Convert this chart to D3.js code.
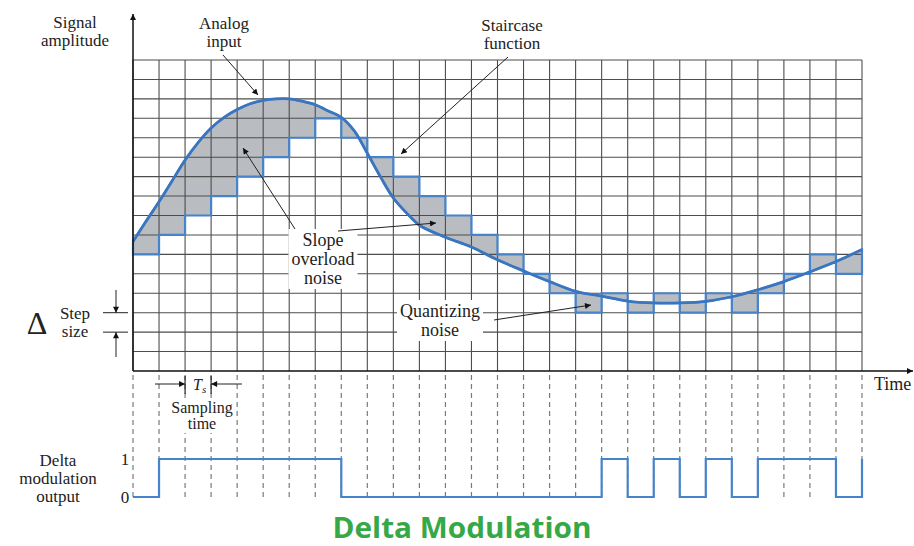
<!DOCTYPE html>
<html>
<head>
<meta charset="utf-8">
<script src="https://cdn.jsdelivr.net/npm/d3@7"></script>
<style>
  body { margin: 0; background: #fff; }
  text { font-family: "Liberation Serif", "DejaVu Serif", serif; fill: #222; }
</style>
</head>
<body>
<svg id="chart"></svg>
<script>
let width = 914
let height = 546
let nCols = 28      // sampling periods shown
let nLevels = 16    // step sizes on the amplitude axis

// analog input (time in sampling periods, amplitude in steps)
let analogT = [0, 0.5, 1, 1.5, 2, 2.5, 3, 3.5, 4, 4.5, 5, 5.5, 6, 6.5, 7, 7.5, 8, 8.5, 9, 9.5, 10, 10.6, 11, 12, 13, 14, 15, 16, 17, 18, 19, 20, 21, 22, 23, 24, 25, 26, 27, 28]
let analogV = [6.66, 7.7, 8.71, 9.78, 10.85, 11.75, 12.5, 13.05, 13.45, 13.75, 13.92, 14.0, 14.0, 13.88, 13.7, 13.38, 13.05, 12.35, 11.2, 10.0, 8.9, 8.0, 7.5, 6.88, 6.38, 5.72, 5.15, 4.6, 4.1, 3.85, 3.6, 3.5, 3.5, 3.58, 3.82, 4.18, 4.6, 5.1, 5.63, 6.25]

// staircase level held during each sampling period
let staircase = [6, 7, 8, 9, 10, 11, 12, 13, 12, 11, 10, 9, 8, 7, 6, 5, 4, 3, 4, 3, 4, 3, 4, 3, 4, 5, 6, 5]

// delta modulation output bit at each sampling instant
let dmBits = [0, 1, 1, 1, 1, 1, 1, 1, 0, 0, 0, 0, 0, 0, 0, 0, 0, 0, 1, 0, 1, 0, 1, 0, 1, 1, 1, 0, 1]
let bitLabels = ["0", "1"]

let blue = "#4583cb"
let gridColor = "#4d4d4d"

let x = d3.scaleLinear().domain([0, nCols]).range([133, 862])
let y = d3.scaleLinear().domain([0, nLevels]).range([371, 60])
let yOut = d3.scaleLinear().domain([0, 1]).range([497, 459])

let svg = d3.select("#chart").attr("width", width).attr("height", height)
svg.append("rect").attr("width", width).attr("height", height).attr("fill", "white")

let defs = svg.append("defs")
defs.append("marker")
    .attr("id", "arrow")
    .attr("viewBox", "0 0 10 10")
    .attr("refX", 10)
    .attr("refY", 5)
    .attr("markerWidth", 9)
    .attr("markerHeight", 6)
    .attr("markerUnits", "userSpaceOnUse")
    .attr("orient", "auto")
    .append("path")
    .attr("d", "M0,0 L10,5 L0,10 Z")
    .attr("fill", "#111")

let analog = analogT.map((t, i) => [t, analogV[i]])
let stairPts = staircase.map((v, i) => [i, v]).concat([[nCols, staircase[staircase.length - 1]]])

let curveLine = d3.line().x(d => x(d[0])).y(d => y(d[1])).curve(d3.curveCatmullRom.alpha(0.5))
let stairBack = d3.line().x(d => x(d[0])).y(d => y(d[1])).curve(d3.curveStepBefore)

// noise area: between the analog input and the staircase
let noisePath = curveLine(analog) + stairBack(stairPts.slice().reverse()).replace(/^M/, "L") + "Z"

svg.append("path")
    .attr("d", noisePath)
    .attr("fill", "#b9bcc1")
    .attr("stroke", "none")

// grid
let grid = svg.append("g").attr("id", "grid")
grid.selectAll(".vline")
    .data(d3.range(nCols + 1))
    .join("line")
    .attr("class", "vline")
    .attr("x1", d => x(d)).attr("x2", d => x(d))
    .attr("y1", y(nLevels)).attr("y2", y(0))
    .attr("stroke", gridColor).attr("stroke-width", 1.1)
grid.selectAll(".hline")
    .data(d3.range(1, nLevels + 1))
    .join("line")
    .attr("class", "hline")
    .attr("x1", x(0)).attr("x2", x(nCols))
    .attr("y1", d => y(d)).attr("y2", d => y(d))
    .attr("stroke", gridColor).attr("stroke-width", 1.1)

// dashed sampling instants below the time axis
svg.append("g").selectAll("line")
    .data(d3.range(nCols + 1))
    .join("line")
    .attr("x1", d => x(d)).attr("x2", d => x(d))
    .attr("y1", y(0) + 4).attr("y2", yOut(0))
    .attr("stroke", "#7a7a7a").attr("stroke-width", 1.2)
    .attr("stroke-dasharray", "5,4")

// multi-line label as one text element, optional white box behind it
function addLabel(lines, cx, y0, dy, bg, size) {
    let g = svg.append("g")
    let t = g.append("text")
        .attr("x", cx).attr("y", y0)
        .attr("text-anchor", "middle")
        .attr("font-size", size || 17)
    lines.forEach((s, i) => {
        t.append("tspan").attr("x", cx).attr("dy", i === 0 ? 0 : dy).text(s)
    })
    if (bg) {
        let b = t.node().getBBox()
        g.insert("rect", "text")
            .attr("x", b.x - 3).attr("y", b.y - 1)
            .attr("width", b.width + 6).attr("height", b.height + 2)
            .attr("fill", "white")
    }
    return g
}

addLabel(["Slope", "overload", "noise"], 323, 246, 19, true, 18)
addLabel(["Quantizing", "noise"], 440, 317, 19, true, 18)
addLabel(["Sampling", "time"], 202, 413, 16, true, 16)

// staircase + closing edges, then the analog input on top
svg.append("path")
    .attr("d", noisePath)
    .attr("fill", "none")
    .attr("stroke", blue)
    .attr("stroke-width", 2.2)
svg.append("path")
    .datum(analog)
    .attr("d", curveLine)
    .attr("fill", "none")
    .attr("stroke", "#3a76bf")
    .attr("stroke-width", 2.8)

// axes
svg.append("line")
    .attr("x1", x(0)).attr("y1", y(0)).attr("x2", x(0)).attr("y2", 14)
    .attr("stroke", "#111").attr("stroke-width", 1.5)
    .attr("marker-end", "url(#arrow)")
svg.append("line")
    .attr("x1", x(0)).attr("y1", y(0)).attr("x2", 913).attr("y2", y(0))
    .attr("stroke", "#111").attr("stroke-width", 1.5)
    .attr("marker-end", "url(#arrow)")

addLabel(["Signal", "amplitude"], 75, 28, 18)
addLabel(["Analog", "input"], 224, 29, 18)
addLabel(["Staircase", "function"], 512, 31, 18)
svg.append("text").attr("x", 874).attr("y", 390).attr("font-size", 18).text("Time")

// annotation arrows
let pointers = [
    [223, 55, 258, 95],
    [508, 57, 401, 154],
    [295, 229, 243, 148],
    [338, 231, 436, 223],
    [494, 320, 591, 305]
]
svg.append("g").selectAll("line")
    .data(pointers)
    .join("line")
    .attr("x1", d => d[0]).attr("y1", d => d[1])
    .attr("x2", d => d[2]).attr("y2", d => d[3])
    .attr("stroke", "#222").attr("stroke-width", 1)
    .attr("marker-end", "url(#arrow)")

// step size marker
svg.append("text").attr("x", 37).attr("y", 334).attr("text-anchor", "middle")
    .attr("font-size", 32).text("Δ")
addLabel(["Step", "size"], 75, 319, 18)
svg.append("g").selectAll("line")
    .data([3, 2])
    .join("line")
    .attr("x1", 103).attr("x2", 128)
    .attr("y1", d => y(d)).attr("y2", d => y(d))
    .attr("stroke", "#222").attr("stroke-width", 1)
svg.append("line").attr("x1", 116).attr("x2", 116).attr("y1", 290).attr("y2", y(3))
    .attr("stroke", "#222").attr("marker-end", "url(#arrow)")
svg.append("line").attr("x1", 116).attr("x2", 116).attr("y1", 357).attr("y2", y(2))
    .attr("stroke", "#222").attr("marker-end", "url(#arrow)")

// Ts bracket
svg.append("line").attr("x1", 155).attr("x2", x(2)).attr("y1", 384).attr("y2", 384)
    .attr("stroke", "#222").attr("marker-end", "url(#arrow)")
svg.append("line").attr("x1", 242).attr("x2", x(3)).attr("y1", 384).attr("y2", 384)
    .attr("stroke", "#222").attr("marker-end", "url(#arrow)")
svg.append("g").selectAll("line")
    .data([2, 3])
    .join("line")
    .attr("x1", d => x(d)).attr("x2", d => x(d))
    .attr("y1", 376).attr("y2", 394)
    .attr("stroke", "#222").attr("stroke-width", 1.2)
let ts = svg.append("text").attr("x", 193).attr("y", 390).attr("font-size", 16).attr("font-style", "italic")
ts.append("tspan").text("T")
ts.append("tspan").attr("font-size", 11).attr("dy", 3).text("s")

// delta modulation output
addLabel(["Delta", "modulation", "output"], 58, 466, 18)
svg.append("g").selectAll("text")
    .data(bitLabels)
    .join("text")
    .attr("x", 125).attr("y", (d, i) => yOut(i) + 6)
    .attr("text-anchor", "middle")
    .attr("font-size", 17)
    .text(d => d)

svg.append("path")
    .datum(dmBits)
    .attr("d", d3.line().x((d, i) => x(i)).y(d => yOut(d)).curve(d3.curveStepAfter))
    .attr("fill", "none")
    .attr("stroke", blue)
    .attr("stroke-width", 2.2)

svg.append("text")
    .attr("x", 462).attr("y", 538)
    .attr("text-anchor", "middle")
    .style("font-family", "'Open Sans', sans-serif")
    .style("font-weight", 700)
    .attr("font-size", 28)
    .attr("textLength", 259)
    .attr("lengthAdjust", "spacingAndGlyphs")
    .style("fill", "#36a848")
    .text("Delta Modulation")
</script>
</body>
</html>
